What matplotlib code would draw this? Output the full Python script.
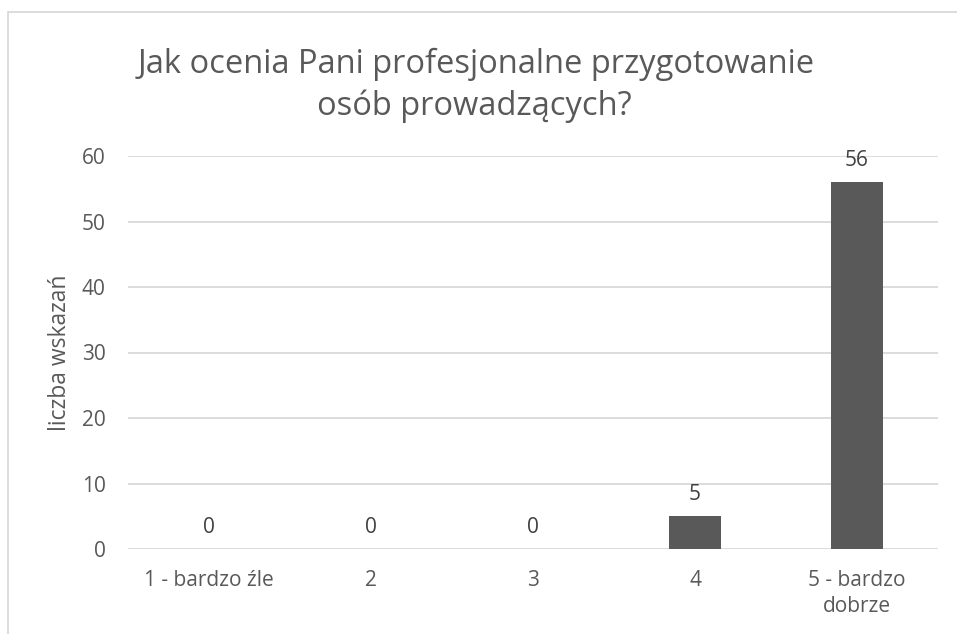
import matplotlib
matplotlib.use('Agg')
import matplotlib.pyplot as plt
from matplotlib.patches import Rectangle

# Dane
categories = ['1 - bardzo źle', '2', '3', '4', '5 - bardzo\ndobrze']
values = [0, 0, 0, 5, 56]
yticks = [0, 10, 20, 30, 40, 50, 60]
title_lines = ['Jak ocenia Pani profesjonalne przygotowanie', 'osób prowadzących?']

text_color = '#595959'
bar_color = '#595959'
grid_color = '#d9d9d9'

plt.rcParams['font.family'] = ['Open Sans', 'DejaVu Sans']

fig = plt.figure(figsize=(9.57, 6.34), dpi=100)
ax = fig.add_axes([128 / 957, 1 - 549 / 634, 810 / 957, 393 / 634])

x = range(len(categories))
ax.bar(x, values, width=0.315, color=bar_color, zorder=3)

# Etykiety danych nad słupkami
for xi, v in zip(x, values):
    ax.annotate(str(v), (xi, v), xytext=(0, 8), textcoords='offset points',
                ha='center', va='bottom', fontsize=15, color='#404040')

ax.set_xlim(-0.5, len(categories) - 0.5)
ax.set_ylim(0, 60)
ax.set_yticks(yticks)
ax.set_xticks(list(x))
ax.set_xticklabels(categories, fontsize=15, color=text_color, linespacing=1.3)
ax.tick_params(axis='y', labelsize=15, labelcolor=text_color, length=0, pad=16)
ax.tick_params(axis='x', length=0, pad=15)
ax.yaxis.grid(True, color=grid_color, linewidth=1.3, zorder=0)
for s in ax.spines.values():
    s.set_visible(False)

ax.set_ylabel('liczba wskazań', fontsize=16.5, color=text_color, labelpad=7)

# Tytuł
fig.text(476 / 957, 1 - 73 / 634, title_lines[0],
         ha='center', va='baseline', fontsize=23.5, color=text_color)
fig.text(474 / 957, 1 - 115 / 634, title_lines[1],
         ha='center', va='baseline', fontsize=23.5, color=text_color)

# Ramka wykresu
fig.patches.append(Rectangle((8 / 957, -0.1), 1.1, 1 - 12 / 634 + 0.1,
                             transform=fig.transFigure, fill=False,
                             edgecolor='#d9d9d9', linewidth=1.3))

fig.savefig('out.png', dpi=100)
